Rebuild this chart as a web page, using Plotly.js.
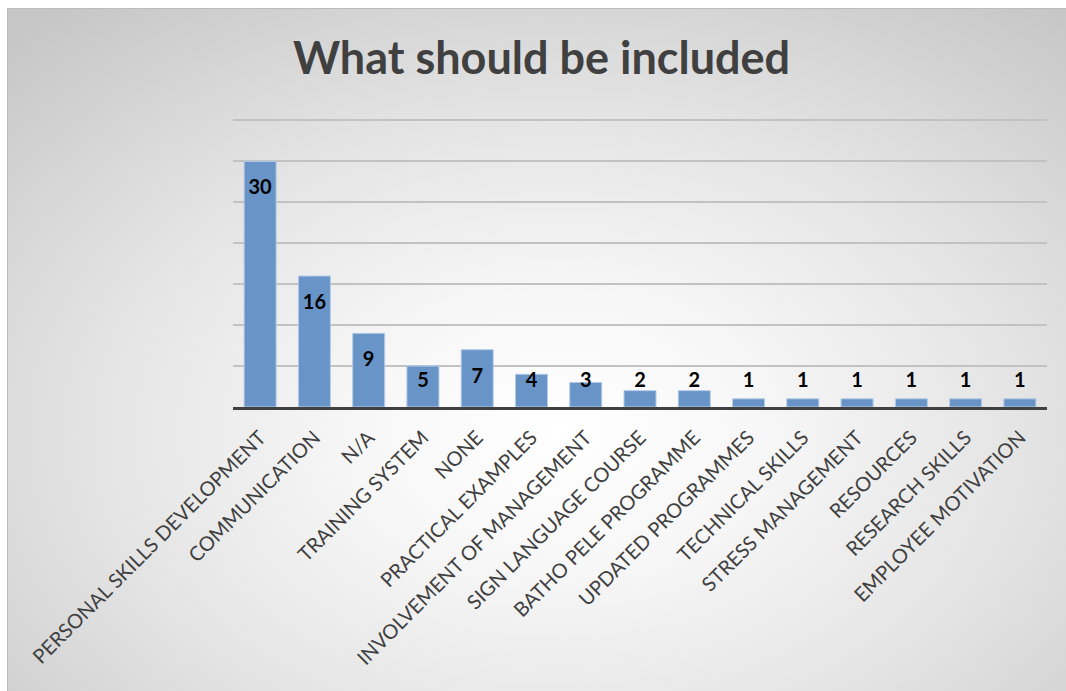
<!DOCTYPE html>
<html>
<head>
<meta charset="utf-8">
<script src="https://cdn.plot.ly/plotly-3.0.1.min.js"></script>
<style>
  html, body { margin: 0; padding: 0; width: 1066px; height: 691px; overflow: hidden; background: #ffffff; }
  #bg {
    position: absolute; left: 7px; top: 8px; width: 1059px; height: 683px;
    border-left: 1px solid #bcbcbc; border-top: 1px solid #bcbcbc;
    background: radial-gradient(ellipse 75% 80% at 52% 62%, #ffffff 0%, #f7f7f7 25%, #e3e3e3 60%, #c6c6c6 100%);
  }
  #chart { position: absolute; left: 0; top: 0; width: 1066px; height: 691px; }
</style>
</head>
<body>
<div id="bg"></div>
<div id="chart"></div>
<script>
const categories = [
  "PERSONAL SKILLS DEVELOPMENT", "COMMUNICATION", "N/A", "TRAINING SYSTEM", "NONE",
  "PRACTICAL EXAMPLES", "INVOLVEMENT OF MANAGEMENT", "SIGN LANGUAGE COURSE",
  "BATHO PELE PROGRAMME", "UPDATED PROGRAMMES", "TECHNICAL SKILLS",
  "STRESS MANAGEMENT", "RESOURCES", "RESEARCH SKILLS", "EMPLOYEE MOTIVATION"
];
const counts = [30, 16, 9, 5, 7, 4, 3, 2, 2, 1, 1, 1, 1, 1, 1];
const chartTitle = "What should be included";

// Excel-style "inside end" labels that stay above a minimum height for short bars
const labelOffset = 3.4, labelFloor = 3.05;
const labelY = counts.map(v => Math.max(v - labelOffset, labelFloor));

const bars = {
  type: "bar",
  x: categories,
  y: counts,
  marker: { color: "#6894c8", line: { color: "#b4cce8", width: 1 } },
  hoverinfo: "x+y",
  showlegend: false
};
const labels = {
  type: "scatter",
  mode: "text",
  x: categories,
  y: labelY,
  text: counts.map(String),
  textposition: "middle center",
  textfont: { family: "Lato, 'Open Sans', sans-serif", size: 20, color: "#000000", weight: "bold" },
  hoverinfo: "skip",
  showlegend: false,
  cliponaxis: false
};

const layout = {
  width: 1066, height: 691,
  paper_bgcolor: "rgba(0,0,0,0)",
  plot_bgcolor: "rgba(0,0,0,0)",
  margin: { l: 233, r: 19, t: 118, b: 284 },
  bargap: 0.41,
  title: {
    text: "<b>" + chartTitle + "</b>",
    font: { family: "Lato, 'Open Sans', sans-serif", size: 45, color: "#404040" },
    x: 0.508, xanchor: "center", y: 0.915, yanchor: "middle"
  },
  xaxis: {
    type: "category",
    range: [-0.5, categories.length - 0.5],
    tickangle: -45,
    tickfont: { family: "Lato, 'Open Sans', sans-serif", size: 20, color: "#404040" },
    showline: true, linecolor: "#404040", linewidth: 3,
    ticks: "", showgrid: false, zeroline: false,
    ticklabelstandoff: 8,
    fixedrange: true
  },
  yaxis: {
    range: [0, 35.3],
    dtick: 5, tick0: 0,
    showticklabels: false,
    showgrid: true, gridcolor: "#c2c2c2", gridwidth: 2,
    zeroline: false, showline: false, ticks: "",
    fixedrange: true
  }
};

Plotly.newPlot("chart", [bars, labels], layout, { displayModeBar: false, staticPlot: true });
</script>
</body>
</html>
